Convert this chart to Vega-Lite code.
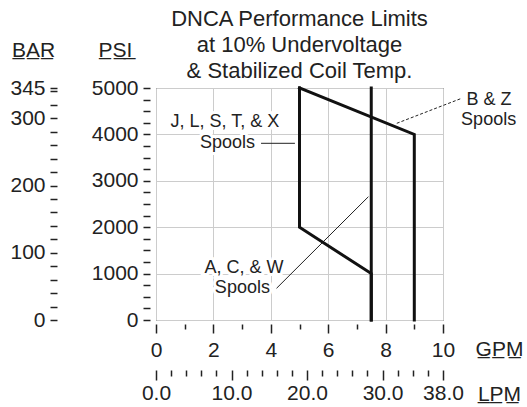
{
  "$schema": "https://vega.github.io/schema/vega-lite/v6.json",
  "width": 287,
  "height": 232,
  "autosize": "none",
  "padding": {"left": 156, "top": 88, "right": 84, "bottom": 87},
  "title": {
    "text": ["DNCA Performance Limits", "at 10% Undervoltage", "& Stabilized Coil Temp."],
    "font": "Liberation Sans",
    "fontSize": 22,
    "fontWeight": "normal",
    "color": "#222",
    "lineHeight": 26,
    "anchor": "middle",
    "offset": -44
  },
  "config": {
    "view": {"stroke": "#222", "strokeWidth": 1},
    "axis": {
      "labelFont": "Liberation Sans",
      "titleFont": "Liberation Sans",
      "labelColor": "#222",
      "titleColor": "#222",
      "tickColor": "#222",
      "tickWidth": 1.5,
      "domain": false,
      "labelFontSize": 21,
      "titleFontSize": 21,
      "titleFontWeight": "normal",
      "gridColor": "#cccccc",
      "labelOverlap": false,
      "labelFlush": false,
      "labelBound": false
    }
  },
  "datasets": {
    "curves": [
      {"series": "J, L, S, T, & X", "order": 1, "gpm": 5, "psi": 5000},
      {"series": "J, L, S, T, & X", "order": 2, "gpm": 5, "psi": 2000},
      {"series": "J, L, S, T, & X", "order": 3, "gpm": 7.5, "psi": 1000},
      {"series": "J, L, S, T, & X", "order": 4, "gpm": 7.5, "psi": 0},
      {"series": "B & Z", "order": 1, "gpm": 5, "psi": 5000},
      {"series": "B & Z", "order": 2, "gpm": 9, "psi": 4000},
      {"series": "B & Z", "order": 3, "gpm": 9, "psi": 0},
      {"series": "A, C, & W", "order": 1, "gpm": 7.5, "psi": 0},
      {"series": "A, C, & W", "order": 2, "gpm": 7.5, "psi": 5000}
    ],
    "leaders": [
      {"leader": "J, L, S, T, & X", "gpm": 3.66, "psi": 3808, "gpm2": 4.84, "psi2": 3808},
      {"leader": "A, C, & W", "gpm": 4.2, "psi": 683, "gpm2": 7.4, "psi2": 2657},
      {"leader": "B & Z", "gpm": 8.39, "psi": 4239, "gpm2": 10.65, "psi2": 4778}
    ],
    "labels": [
      {"label": "J, L, S, T, & X", "gpm": 2.4, "psi": 4166},
      {"label": "Spools", "gpm": 2.49, "psi": 3713},
      {"label": "A, C, & W", "gpm": 3.07, "psi": 1019},
      {"label": "Spools", "gpm": 3.01, "psi": 575},
      {"label": "B & Z", "gpm": 11.6, "psi": 4634},
      {"label": "Spools", "gpm": 11.59, "psi": 4203}
    ],
    "extent": [
      {"lpm": 0, "bar": 0},
      {"lpm": 38, "bar": 345}
    ]
  },
  "layer": [
    {
      "data": {"name": "labels"},
      "mark": {"type": "text", "font": "Liberation Sans", "fontSize": 18, "align": "center", "baseline": "alphabetic", "fill": "white", "stroke": "white", "strokeWidth": 6},
      "encoding": {
        "x": {
          "field": "gpm", "type": "quantitative",
          "scale": {"domain": [0, 10], "nice": false, "zero": false},
          "axis": {
            "orient": "bottom",
            "offset": 4,
            "values": [0, 0.5, 1, 1.5, 2, 2.5, 3, 3.5, 4, 4.5, 5, 5.5, 6, 6.5, 7, 7.5, 8, 8.5, 9, 9.5, 10],
            "tickSize": {"condition": {"test": "datum.value % 2 === 0", "value": 9}, "value": 5},
            "labelExpr": "datum.value % 2 === 0 ? datum.label : ''",
            "format": "d",
            "labelPadding": 6,
            "grid": true,
            "gridOpacity": {"condition": {"test": "datum.value % 2 === 0", "value": 1}, "value": 0},
            "title": "G\u0332P\u0332M\u0332",
            "titleAngle": 0,
            "titleX": 343,
            "titleY": 31,
            "titleAlign": "center",
            "titleBaseline": "alphabetic"
          }
        },
        "y": {
          "field": "psi", "type": "quantitative",
          "scale": {"domain": [0, 5000], "nice": false},
          "axis": {
            "orient": "left",
            "offset": 6,
            "values": [0, 250, 500, 750, 1000, 1250, 1500, 1750, 2000, 2250, 2500, 2750, 3000, 3250, 3500, 3750, 4000, 4250, 4500, 4750, 5000],
            "tickSize": 7,
            "labelPadding": 5,
            "format": "d",
            "labelExpr": "datum.value % 1000 === 0 ? datum.label : ''",
            "grid": true,
            "gridOpacity": {"condition": {"test": "datum.value % 1000 === 0", "value": 1}, "value": 0},
            "title": "P\u0332S\u0332I\u0332",
            "titleAngle": 0,
            "titleX": -35,
            "titleY": -32,
            "titleAlign": "center",
            "titleBaseline": "alphabetic"
          }
        },
        "text": {"field": "label"}
      }
    },
    {
      "data": {"name": "leaders"},
      "transform": [{"filter": "datum.leader !== 'B & Z'"}],
      "mark": {"type": "rule", "color": "#222", "strokeWidth": 1},
      "encoding": {
        "x": {"field": "gpm", "type": "quantitative", "scale": {"domain": [0, 10], "nice": false, "zero": false}, "axis": null},
        "y": {"field": "psi", "type": "quantitative", "scale": {"domain": [0, 5000], "nice": false}, "axis": null},
        "x2": {"field": "gpm2"},
        "y2": {"field": "psi2"}
      }
    },
    {
      "data": {"name": "leaders"},
      "transform": [{"filter": "datum.leader === 'B & Z'"}],
      "mark": {"type": "rule", "color": "#222", "strokeWidth": 1, "strokeDash": [3, 2]},
      "encoding": {
        "x": {"field": "gpm", "type": "quantitative", "scale": {"domain": [0, 10], "nice": false, "zero": false}, "axis": null},
        "y": {"field": "psi", "type": "quantitative", "scale": {"domain": [0, 5000], "nice": false}, "axis": null},
        "x2": {"field": "gpm2"},
        "y2": {"field": "psi2"}
      }
    },
    {
      "data": {"name": "curves"},
      "mark": {"type": "line", "color": "#111", "strokeWidth": 3, "strokeJoin": "miter", "strokeCap": "square"},
      "encoding": {
        "x": {"field": "gpm", "type": "quantitative", "scale": {"domain": [0, 10], "nice": false, "zero": false}, "axis": null},
        "y": {"field": "psi", "type": "quantitative", "scale": {"domain": [0, 5000], "nice": false}, "axis": null},
        "detail": {"field": "series"},
        "order": {"field": "order"}
      }
    },
    {
      "data": {"name": "labels"},
      "mark": {"type": "text", "font": "Liberation Sans", "fontSize": 18, "align": "center", "baseline": "alphabetic", "color": "#222"},
      "encoding": {
        "x": {"field": "gpm", "type": "quantitative", "scale": {"domain": [0, 10], "nice": false, "zero": false}, "axis": null},
        "y": {"field": "psi", "type": "quantitative", "scale": {"domain": [0, 5000], "nice": false}, "axis": null},
        "text": {"field": "label"}
      }
    },
    {
      "data": {"name": "extent"},
      "mark": {"type": "point", "opacity": 0},
      "encoding": {
        "x": {
          "field": "lpm", "type": "quantitative",
          "scale": {"domain": [0, 38], "nice": false, "zero": false},
          "axis": {
            "orient": "bottom",
            "offset": 50,
            "values": [0, 2, 4, 6, 8, 10, 12, 14, 16, 18, 20, 22, 24, 26, 28, 30, 32, 34, 36, 38],
            "tickSize": {"condition": {"test": "datum.value % 10 === 0 || datum.value === 38", "value": 10}, "value": 6},
            "labelExpr": "datum.value % 10 === 0 || datum.value === 38 ? datum.label : ''",
            "format": ".1f",
            "labelPadding": 2,
            "grid": false,
            "title": "L\u0332P\u0332M\u0332",
            "titleAngle": 0,
            "titleX": 343,
            "titleY": 30,
            "titleAlign": "center",
            "titleBaseline": "alphabetic"
          }
        },
        "y": {
          "field": "bar", "type": "quantitative",
          "scale": {"domain": [0, 345], "nice": false},
          "axis": {
            "orient": "left",
            "offset": 99,
            "values": [0, 20, 40, 60, 80, 100, 120, 140, 160, 180, 200, 220, 240, 260, 280, 300, 320, 340, 345],
            "tickSize": 7,
            "labelPadding": 5,
            "format": "d",
            "labelExpr": "datum.value % 100 === 0 || datum.value === 345 ? datum.label : ''",
            "grid": false,
            "title": "B\u0332A\u0332R\u0332",
            "titleAngle": 0,
            "titleX": -24,
            "titleY": -32,
            "titleAlign": "center",
            "titleBaseline": "alphabetic"
          }
        }
      }
    }
  ],
  "resolve": {"scale": {"x": "independent", "y": "independent"}}
}
